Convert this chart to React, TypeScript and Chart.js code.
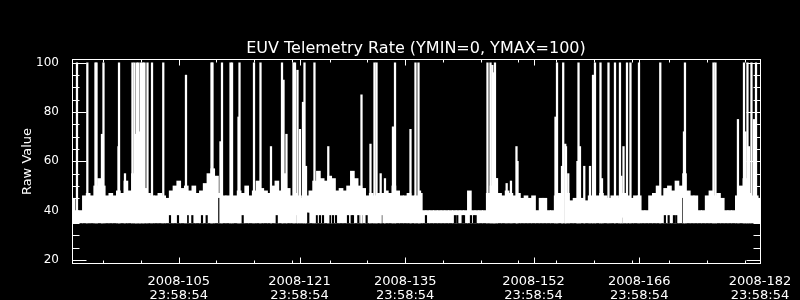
import React, { useEffect, useRef } from 'react';
import { Chart, registerables } from 'chart.js';

Chart.register(...registerables);

// ---------- text ----------
const chartTitle = 'EUV Telemetry Rate (YMIN=0, YMAX=100)';
const yAxisTitle = 'Raw Value';

// ---------- axes ----------
const xRange = [91.86, 183.0]; // day of year 2008
const yRange = [18.3, 101.55];
const xTickDays = [105.999, 121.999, 135.999, 152.999, 166.999, 182.999];
const xTickDates = ['2008-105', '2008-121', '2008-135', '2008-152', '2008-166', '2008-182'];
const xTickTimes = ['23:58:54', '23:58:54', '23:58:54', '23:58:54', '23:58:54', '23:58:54'];
const xMinorDays = [95.999, 100.999, 110.999, 115.999, 120.999, 125.999, 130.999, 140.999, 145.999,
  150.999, 155.999, 160.999, 165.999, 170.999, 175.999, 180.999];
const yTickValues = [20, 40, 60, 80, 100];
const yMinorValues = [25, 30, 35, 45, 50, 55, 65, 70, 75, 85, 90, 95];

// ---------- data ----------
const rawFloor = 35; // lowest raw value of the telemetry band
const bandStartDay = 92;
const bandStepDays = 0.5;
// upper envelope of the dense telemetry band, one value per half day
const bandHigh = [
  45, 40, 40, 46, 47, 46, 50, 53, 50, 46,
  47, 46, 48, 47, 52, 48, 55, 50, 48, 49,
  47, 46, 46, 47, 46, 45, 48, 50, 52, 49,
  50, 48, 50, 47, 48, 51, 55, 57, 54, 47,
  46, 46, 45, 46, 48, 47, 50, 46, 48, 52,
  49, 48, 47, 50, 52, 48, 55, 49, 46, 47,
  46, 45, 46, 48, 52, 56, 53, 52, 54, 53,
  48, 49, 48, 50, 56, 53, 50, 49, 46, 47,
  46, 47, 47, 48, 47, 50, 48, 46, 46, 47,
  46, 46, 47, 40, 40, 40, 40, 40, 40, 40,
  40, 40, 40, 40, 40, 48, 40, 40, 40, 40,
  47, 50, 53, 47, 46, 48, 47, 46, 47, 45,
  46, 45, 46, 40, 45, 45, 40, 40, 46, 47,
  45, 47, 44, 45, 44, 45, 44, 46, 45, 46,
  47, 46, 45, 46, 46, 45, 47, 46, 45, 46,
  46, 40, 40, 46, 47, 50, 46, 49, 50, 48,
  52, 50, 55, 48, 46, 46, 40, 40, 46, 48,
  46, 47, 45, 40, 40, 40, 46, 50, 53, 47,
  46, 46, 45,
];

// isolated spikes above the band
const spikeDays = [
  92.52, 93.89, 94.97, 95.11, 95.83, 96.03, 98.02, 98.09, 98.88, 99.87,
  100.14, 100.34, 100.47, 100.67, 100.87, 101.0, 101.27, 101.46, 101.86, 102.46,
  103.95, 106.96, 110.34, 110.47, 111.53, 111.73, 112.86, 113.06, 113.92, 114.05,
  115.97, 116.83, 118.22, 119.68, 119.88, 120.27, 121.2, 121.4, 121.73, 122.06,
  122.46, 122.66, 122.86, 123.98, 125.81, 130.21, 131.4, 131.93, 132.2, 132.75,
  133.32, 134.38, 134.65, 136.7, 137.36, 137.76, 137.96, 146.9, 147.3, 147.54,
  147.72, 147.89, 148.12, 149.44, 150.01, 150.74, 150.88, 155.91, 156.11, 156.77,
  156.93, 157.2, 157.3, 157.6, 158.82, 158.96, 159.15, 159.72, 160.48, 160.88,
  161.14, 161.87, 162.07, 162.93, 163.79, 164.45, 164.65, 164.92, 165.38, 165.84,
  166.97, 169.79, 172.93, 173.06, 176.84, 177.1, 180.08, 180.88, 181.08, 181.34,
  181.54, 181.87, 182.2, 182.47,
];
const spikePeaks = [
  100, 100, 100, 100, 71, 100, 66, 100, 55, 100,
  100, 71, 100, 100, 72, 100, 100, 100, 100, 100,
  100, 95, 100, 100, 68, 100, 100, 100, 78, 100,
  100, 100, 66, 100, 93, 71, 100, 100, 97, 73,
  84, 100, 58, 100, 66, 87, 67, 100, 100, 55,
  53, 74, 100, 73, 100, 100, 48, 100, 100, 99,
  96, 100, 53, 51, 52, 66, 60, 78, 100, 58,
  100, 67, 66, 55, 60, 100, 66, 58, 58, 95,
  100, 100, 53, 100, 100, 100, 54, 66, 100, 100,
  100, 100, 72, 100, 100, 100, 77, 100, 72, 100,
  66, 100, 77, 100,
];

// short gaps where the band did not reach its floor
const dipDays = [
  104.84, 105.9, 107.19, 107.8, 109.08, 109.7, 111.37, 111.69, 114.47, 118.98,
  119.72, 121.44, 123.03, 123.16, 124.28, 124.71, 125.11, 126.04, 126.43, 126.83,
  128.42, 128.91, 129.08, 129.79, 130.23, 130.89, 132.83, 138.75, 142.59, 142.9,
  143.61, 143.79, 144.71, 145.11, 145.33, 157.07, 159.06, 161.05, 164.81, 170.4,
  170.9, 171.6, 171.9, 172.84, 182.37,
];
const dipTops = [
  38, 38, 38, 38, 38, 38, 45, 38, 38, 38,
  46, 38, 39, 39, 38, 38, 38, 38, 38, 38,
  38, 38, 38, 38, 38, 38, 38, 38, 38, 38,
  38, 38, 38, 38, 38, 45, 39, 37, 37, 38,
  38, 38, 38, 45, 38,
];

const FONT = '"DejaVu Sans", sans-serif';

const idlFrame = {
  id: 'idlFrame',
  afterDatasetsDraw(chart: any) {
    const { ctx, chartArea: a, scales } = chart;
    const x = scales.x;
    const y = scales.y;
    const L = Math.round(a.left) + 0.5;
    const R = Math.round(a.right) + 0.5;
    const T = Math.round(a.top) + 0.5;
    const B = Math.round(a.bottom) - 0.5;
    ctx.save();
    ctx.strokeStyle = '#ffffff';
    ctx.lineWidth = 1;
    ctx.strokeRect(L, T, R - L, B - T);
    ctx.beginPath();
    const yTick = (v: number, len: number) => {
      const py = Math.round(y.getPixelForValue(v)) + 0.5;
      ctx.moveTo(L, py); ctx.lineTo(L + len, py);
      ctx.moveTo(R, py); ctx.lineTo(R - len, py);
    };
    const xTick = (v: number, len: number) => {
      const px = Math.round(x.getPixelForValue(v)) + 0.5;
      ctx.moveTo(px, B); ctx.lineTo(px, B - len);
      ctx.moveTo(px, T); ctx.lineTo(px, T + len);
    };
    yTickValues.forEach((v) => yTick(v, 14));
    yMinorValues.forEach((v) => yTick(v, 7));
    xTickDays.forEach((v) => xTick(v, 6));
    xMinorDays.forEach((v) => xTick(v, 3));
    ctx.stroke();
    ctx.fillStyle = '#ffffff';
    ctx.font = '16px ' + FONT;
    ctx.textAlign = 'center';
    ctx.textBaseline = 'alphabetic';
    ctx.fillText(chartTitle, (a.left + a.right) / 2, 53.3);
    ctx.restore();
  },
};

export default function App() {
  const ref = useRef<HTMLCanvasElement | null>(null);

  useEffect(() => {
    document.body.style.margin = '0';
    document.body.style.background = '#000';
    const canvas = ref.current;
    if (!canvas) return;

    const band = bandHigh.map((hi, i) => ({ x: bandStartDay + i * bandStepDays, y: [rawFloor, hi] }));
    const spikes = spikeDays.map((d, i) => ({ x: d, y: [rawFloor, spikePeaks[i]] }));
    const dips = dipDays.map((d, i) => ({ x: d, y: [rawFloor, dipTops[i]] }));

    const chart = new Chart(canvas, {
      type: 'bar',
      data: {
        datasets: [
          {
            label: 'spikes', data: spikes as any, backgroundColor: '#ffffff', borderWidth: 0,
            barThickness: 1.6, grouped: false, order: 1,
          } as any,
          {
            label: 'gaps', data: dips as any, backgroundColor: '#000000', borderWidth: 0,
            barThickness: 1.5, grouped: false, order: 2,
          } as any,
          {
            label: 'band', data: band as any, backgroundColor: '#ffffff', borderWidth: 0,
            barThickness: 4, grouped: false, order: 3,
          } as any,
        ],
      },
      plugins: [idlFrame],
      options: {
        responsive: false,
        animation: false,
        events: [],
        layout: { padding: { top: 59, right: 40, left: 0, bottom: 0 } },
        plugins: { legend: { display: false }, tooltip: { enabled: false }, title: { display: false } },
        scales: {
          x: {
            type: 'linear',
            min: xRange[0],
            max: xRange[1],
            offset: false,
            grid: { display: false },
            border: { display: false },
            afterBuildTicks: (scale: any) => { scale.ticks = xTickDays.map((v) => ({ value: v })); },
            afterFit: (scale: any) => { scale.height = 36; },
            ticks: {
              autoSkip: false,
              maxRotation: 0,
              minRotation: 0,
              padding: 2.5,
              color: '#ffffff',
              font: { family: FONT, size: 13, lineHeight: 1.1 },
              callback: (_v: any, i: number) => [xTickDates[i], xTickTimes[i]],
            },
          },
          y: {
            type: 'linear',
            min: yRange[0],
            max: yRange[1],
            grid: { display: false },
            border: { display: false },
            afterBuildTicks: (scale: any) => { scale.ticks = yTickValues.map((v) => ({ value: v })); },
            afterFit: (scale: any) => { scale.width = 72; },
            ticks: {
              padding: 5,
              color: '#ffffff',
              font: { family: FONT, size: 12 },
              callback: (v: any) => String(v),
            },
            title: {
              display: true,
              text: yAxisTitle,
              color: '#ffffff',
              font: { family: FONT, size: 13 },
              padding: { top: 20, bottom: 0 },
            },
          },
        },
      } as any,
    });
    return () => chart.destroy();
  }, []);

  return (
    <div style={{ width: 800, height: 300, background: '#000' }}>
      <canvas ref={ref} width={800} height={300} style={{ display: 'block', background: '#000' }} />
    </div>
  );
}
